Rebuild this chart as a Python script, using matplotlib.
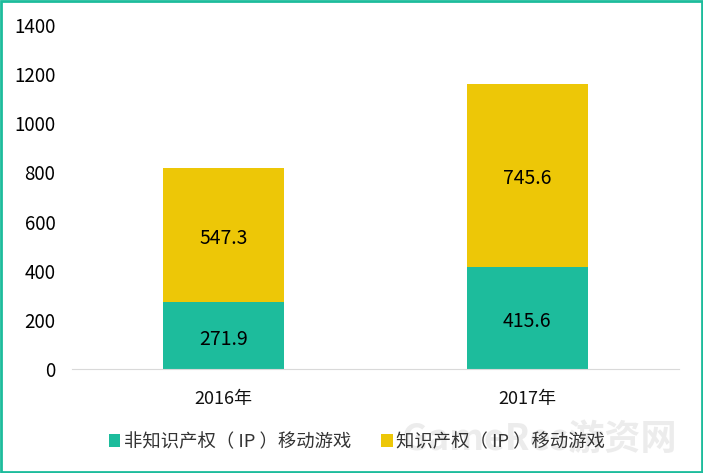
import matplotlib
matplotlib.use('Agg')
import matplotlib.pyplot as plt
from matplotlib.patches import Rectangle

plt.rcParams['font.family'] = ['Noto Sans CJK SC', 'DejaVu Sans']

years = ['2016年', '2017年']
non_ip = [271.9, 415.6]
ip = [547.3, 745.6]
yticks = [0, 200, 400, 600, 800, 1000, 1200, 1400]
labels = ['非知识产权（ IP ）移动游戏', '知识产权（ IP ）移动游戏']

fig = plt.figure(figsize=(7.03, 4.73), dpi=100)
ax = fig.add_axes([72/703, 1-369/473, (679-72)/703, (369-25)/473])

x = [0, 1]
b1 = ax.bar(x, non_ip, width=0.4, color='#1dbc9c', label=labels[0])
b2 = ax.bar(x, ip, width=0.4, bottom=non_ip, color='#edc707', label=labels[1])

# 数值标签比柱段中心略低
for i in x:
    ax.annotate(str(non_ip[i]), (i, non_ip[i]/2), xytext=(0, -2.5), textcoords='offset points',
                ha='center', va='center', fontsize=14)
    ax.annotate(str(ip[i]), (i, non_ip[i]+ip[i]/2), xytext=(0, -2.5), textcoords='offset points',
                ha='center', va='center', fontsize=14)

ax.set_xlim(-0.5, 1.5)
ax.set_ylim(0, 1400)
ax.set_yticks(yticks)
ax.set_xticks(x)
ax.set_xticklabels(years)
ax.tick_params(axis='y', length=0, labelsize=13.5, pad=12)
ax.tick_params(axis='x', length=0, labelsize=13, pad=15, colors='#111111')
for s in ['top', 'right', 'left']:
    ax.spines[s].set_visible(False)
ax.spines['bottom'].set_color('#d9d9d9')

# 水印
fig.text(539/703, 1-439/473, 'GameRes游资网', ha='center', va='center', fontsize=26,
         fontweight='bold', color='#ececec', zorder=0)

fig.legend(handles=[b1, b2], loc='center', bbox_to_anchor=(357/703, 1-442/473), ncol=2,
           frameon=False, fontsize=13.2, handlelength=0.65, handleheight=0.65,
           handletextpad=0.2, columnspacing=1.6, labelcolor='#333333')

# 外边框
fig.add_artist(Rectangle((0.002, 0.003), 0.996, 0.994, transform=fig.transFigure,
                         fill=False, edgecolor='#1dbc9c', linewidth=2))

fig.savefig('out.png', dpi=100)
